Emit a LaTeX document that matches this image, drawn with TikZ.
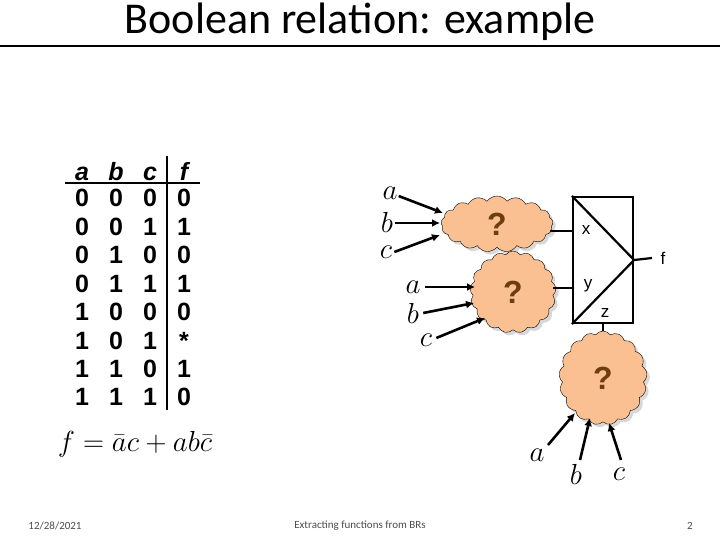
\documentclass[tikz,border=0pt]{standalone}
\usepackage{fix-cm}
\usepackage{fontspec}
\setmainfont{Carlito}
\newfontfamily\arialf{Liberation Sans}
\usetikzlibrary{shapes.symbols,shadows,arrows.meta}
\definecolor{cloudc}{RGB}{250,192,145}
\definecolor{qc}{RGB}{110,60,15}
\begin{document}
\begin{tikzpicture}[x=1pt,y=-1pt,
  tbl/.style={font=\arialf\bfseries\fontsize{25}{25}\selectfont,inner sep=0,text height=18pt,text depth=0pt},
  lab/.style={font=\fontsize{29}{29}\selectfont,inner sep=1},
  cl/.style={cloud,cloud puffs=17,cloud puff arc=110,draw=black,fill=cloudc,
    drop shadow={shadow xshift=3pt,shadow yshift=-3pt,fill=gray!60},inner sep=0,font=\arialf\bfseries\fontsize{32}{32}\selectfont,text=qc},
  arr/.style={line width=2.6pt,-{Latex[length=8pt,width=8pt]}},
  wire/.style={line width=2.2pt},
  foot/.style={font=\fontsize{11}{11}\selectfont,text=black!70}]
\useasboundingbox (0,0) rectangle (720,540);
\node[font=\fontsize{44}{44}\selectfont] (title) at (360,22) {Boolean relation: example};
\draw[line width=2pt] (0,46) -- (720,46);
% table
\foreach \n/\x in {a/82,b/116,c/150,f/184}{
  \node[tbl,font=\arialf\bfseries\itshape\fontsize{25}{25}\selectfont] (h\n) at (\x,172) {\n};}
\foreach \r/\va/\vb/\vc/\vf in {0/0/0/0/0,1/0/0/1/1,2/0/1/0/0,3/0/1/1/1,4/1/0/0/0,5/1/0/1/{*},6/1/1/0/1,7/1/1/1/0}{
  \node[tbl] (ra\r) at (82,198+28.4*\r) {\va};
  \node[tbl] (rb\r) at (116,198+28.4*\r) {\vb};
  \node[tbl] (rc\r) at (150,198+28.4*\r) {\vc};
  \node[tbl] (rf\r) at (184,198+28.4*\r) {\vf};}
\draw[line width=2.2pt] (65,183) -- (200,183);
\draw[line width=2.2pt] (167,156) -- (167,410);
\node[lab] (eq) at (135,444) {$f = \bar a c + a b\bar c$};
% box
\node[draw,line width=2.2pt,minimum width=60pt,minimum height=126pt,inner sep=0] (box) at (603,260) {};
\draw[line width=2.2pt] (box.north west) -- (box.east) -- (box.south west);
\coordinate (fo) at (652,258);
\draw[wire] (box.east) -- (fo);
\node[font=\arialf\fontsize{17}{17}\selectfont] (fl) at (663,258) {f};
\node[font=\arialf\fontsize{17}{17}\selectfont] (xl) at (586,230) {x};
\node[font=\arialf\fontsize{17}{17}\selectfont] (yl) at (588,286) {y};
\node[font=\arialf\fontsize{17}{17}\selectfont] (zl) at (605,313) {z};
% clouds
\node[cl,minimum width=112pt,minimum height=56pt] (c1) at (497,224) {?};
\node[cl,minimum width=86pt,minimum height=82pt] (c2) at (513,292) {?};
\node[cl,minimum width=88pt,minimum height=94pt] (c3) at (603,378) {?};
\coordinate (xs) at (box.west |- 0,231);
\coordinate (ys) at (box.west |- 0,288);
\draw[wire] (c1.east |- xs) ++(-3,0) -- (xs);
\draw[wire] (553,288) -- (ys);
\draw[wire] (box.south) -- (c3.north);
% input labels
\node[lab] (a1) at (390,193) {$a$};
\node[lab] (b1) at (387,222) {$b$};
\node[lab] (c1l) at (386,252) {$c$};
\node[lab] (a2) at (413,287) {$a$};
\node[lab] (b2) at (413,313) {$b$};
\node[lab] (c2l) at (426,340) {$c$};
\node[lab] (a3) at (537,455) {$a$};
\node[lab] (b3) at (576,474) {$b$};
\node[lab] (c3l) at (619,474) {$c$};
\coordinate (p1a) at (443,213); \coordinate (p1b) at (440,223); \coordinate (p1c) at (440,235);
\coordinate (p2a) at (475,287); \coordinate (p2b) at (474,303); \coordinate (p2c) at (485,318);
\coordinate (p3a) at (575,413); \coordinate (p3b) at (590,418); \coordinate (p3c) at (609,423);
\draw[arr] (a1.east) ++(0,3) -- (p1a);
\draw[arr] (b1.east) ++(1,1) -- (p1b);
\draw[arr] (c1l.east) ++(1,0) -- (p1c);
\draw[arr] (a2.east) ++(3,0) -- (p2a);
\draw[arr] (b2.east) ++(3,0) -- (p2b);
\draw[arr] (c2l.east) ++(3,-2) -- (p2c);
\draw[arr] (548,445) -- (p3a);
\draw[arr] (580,460) -- (p3b);
\draw[arr] (621,460) -- (p3c);
% footer
\node[foot] (d) at (55,526) {12/28/2021};
\node[foot] (t) at (360,526) {Extracting functions from BRs};
\node[foot] (n) at (690,526) {2};
\end{tikzpicture}
\end{document}
